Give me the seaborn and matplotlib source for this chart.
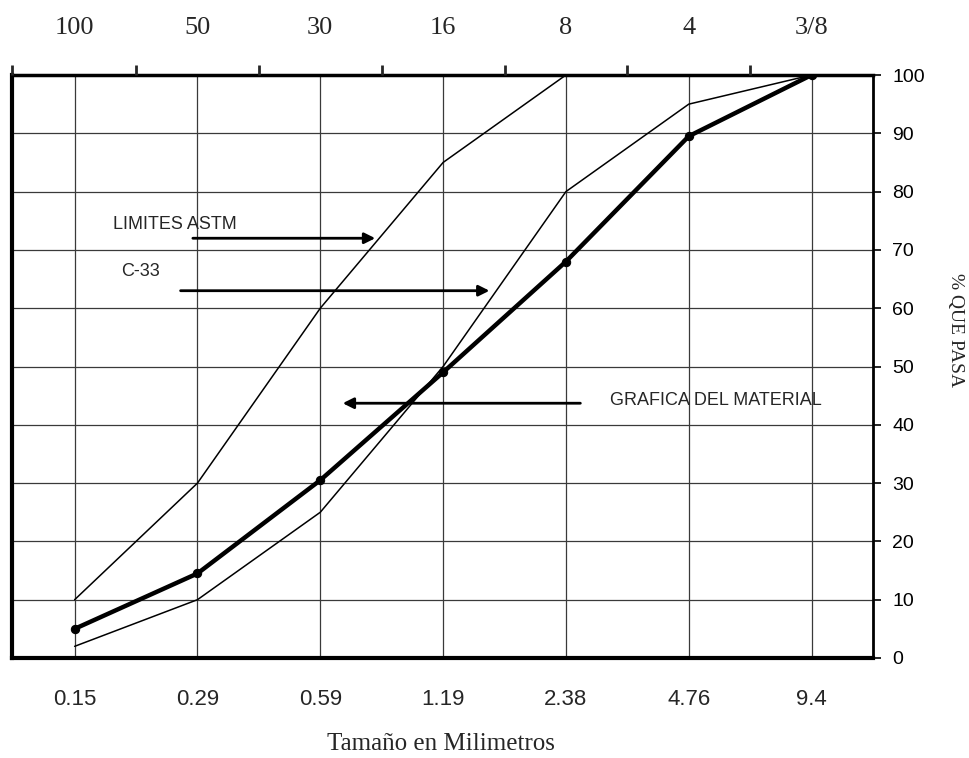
import matplotlib
matplotlib.use('Agg')
import matplotlib.pyplot as plt
from matplotlib import font_manager
import pandas as pd
import seaborn as sns

# datos de la curva granulometrica
tamanos_mm = ['0.15', '0.29', '0.59', '1.19', '2.38', '4.76', '9.4']
mallas = ['100', '50', '30', '16', '8', '4', '3/8']
limite_superior = [10, 30, 60, 85, 100, 100, 100]
limite_inferior = [2, 10, 25, 50, 80, 95, 100]
material = [5, 14.5, 30.5, 49, 68, 89.5, 100]
y_ticks = list(range(0, 101, 10))

sns.set_style('white')
names = {f.name for f in font_manager.fontManager.ttflist}
narrow = 'Liberation Sans Narrow' if 'Liberation Sans Narrow' in names else 'Liberation Sans'
serif = 'Liberation Serif'
plt.rcParams['font.family'] = [narrow, 'DejaVu Sans']

df = pd.DataFrame({'mm': tamanos_mm, 'sup': limite_superior,
                   'inf': limite_inferior, 'mat': material})

fig = plt.figure(figsize=(9.69, 7.58), dpi=100)
ax = fig.add_axes([12/969, 1 - 658/758, (873 - 12)/969, (658 - 75)/758])

ax.grid(True, color='#3a3a3a', lw=0.9, zorder=0)
sns.lineplot(data=df, x='mm', y='sup', color='black', lw=1.1, sort=False, ax=ax)
sns.lineplot(data=df, x='mm', y='inf', color='black', lw=1.1, sort=False, ax=ax)
sns.lineplot(data=df, x='mm', y='mat', color='black', lw=3.2, sort=False,
             marker='o', markersize=6, markeredgecolor='black', ax=ax)

ax.set_xlim(-0.51, 6.5)
ax.set_ylim(0, 100)
ax.set_xlabel('')
ax.set_ylabel('')

# eje derecho con porcentajes
ax.yaxis.tick_right()
ax.set_yticks(y_ticks)
ax.tick_params(axis='y', which='major', direction='out', length=6, width=1.2,
               pad=8, labelsize=14, colors='black', right=True, left=False)
ax.tick_params(axis='x', length=0, pad=22, labelsize=16)
for lab in ax.get_xticklabels() + ax.get_yticklabels():
    lab.set_family([narrow, 'DejaVu Sans'])

for side, lw in [('left', 3), ('bottom', 3), ('top', 2.5), ('right', 2)]:
    ax.spines[side].set_visible(True)
    ax.spines[side].set_linewidth(lw)
    ax.spines[side].set_color('black')

# eje superior con numeros de malla
ax2 = ax.twiny()
ax2.set_xlim(ax.get_xlim())
ax2.set_xticks(range(len(mallas)))
ax2.set_xticklabels(mallas, family=serif, fontsize=19)
ax2.set_xticks([-0.51, 0.5, 1.5, 2.5, 3.5, 4.5, 5.5], minor=True)
ax2.tick_params(axis='x', which='major', length=0, pad=26)
ax2.tick_params(axis='x', which='minor', length=7, width=2, direction='out')
for s in ax2.spines.values():
    s.set_visible(False)

# flechas y anotaciones
arrow = dict(arrowstyle='-|>', color='black', lw=2, mutation_scale=16)
ax.annotate('', xy=(2.47, 72), xytext=(0.94, 72), arrowprops=arrow)
ax.annotate('', xy=(3.40, 63), xytext=(0.84, 63), arrowprops=arrow)
ax.annotate('', xy=(2.16, 43.7), xytext=(4.14, 43.7), arrowprops=arrow)
ax.text(0.31, 74.3, 'LIMITES ASTM', fontsize=13, va='center', ha='left')
ax.text(0.38, 66.3, 'C-33', fontsize=13, va='center', ha='left')
ax.text(4.36, 44.2, 'GRAFICA DEL MATERIAL', fontsize=13, va='center', ha='left')

fig.text(441/969, 1 - 744/758, 'Tamaño en Milimetros', family=serif,
         fontsize=18, ha='center', va='center')
fig.text(955/969, 1 - 330/758, '% QUE PASA', family=serif, fontsize=14,
         rotation=270, ha='center', va='center')

fig.savefig('out.png', dpi=100)
